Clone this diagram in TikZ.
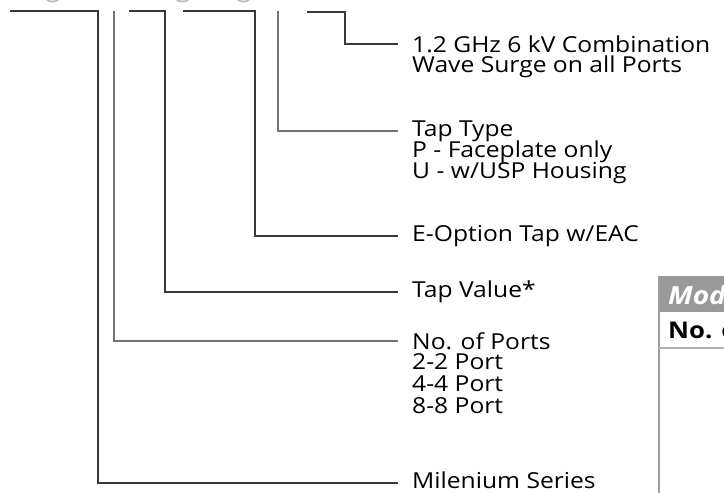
\documentclass[tikz,border=0pt]{standalone}
\usepackage{fontspec}
\setmainfont{Open Sans}[FakeStretch=1.12]
\begin{document}
\begin{tikzpicture}[x=1pt,y=-1pt,
  lead/.style={line width=1.3pt,draw=black!78},
  leadg/.style={line width=1.3pt,draw=black!55},
  lbl/.style={anchor=west,inner sep=0pt,font=\fontsize{22}{24}\selectfont},
  tline/.style={line width=2pt,draw=black!38},
  frag/.style={line width=1.8pt,draw=black!25}]
\useasboundingbox (0,0) rectangle (724,493);
% labels
\node[lbl] (ghz) at (412,44) {1.2 GHz 6 kV Combination};
\node[lbl] (ghzb) at (412,67) {Wave Surge on all Ports};
\node[lbl] (tt) at (412,131) {Tap Type};
\node[lbl] (ttp) at (412,152) {P - Faceplate only};
\node[lbl] (ttu) at (412,173) {U - w/USP Housing};
\node[lbl] (eo) at (412,236) {E-Option Tap w/EAC};
\node[lbl] (tv) at (412,292) {Tap Value*};
\node[lbl] (np) at (412,341) {No. of Ports};
\node[lbl] (np2) at (412,362) {2-2 Port};
\node[lbl] (np4) at (412,384) {4-4 Port};
\node[lbl] (np8) at (412,406) {8-8 Port};
\node[lbl] (ms) at (412,480) {Milenium Series};
% end points
\coordinate (e1) at (398,44);
\coordinate (e2) at (398,131);
\coordinate (e3) at (398,236);
\coordinate (e4) at (398,292);
\coordinate (e5) at (398,341);
\coordinate (e6) at (398,483);
% leaders
\draw[lead] (10,11) -| (98,483) -- (e6);
\draw[leadg] (114,11) |- (e5);
\draw[lead] (129,11) -| (165,292) -- (e4);
\draw[lead] (183,11) -| (255,236) -- (e3);
\draw[leadg] (278,11) |- (e2);
\draw[lead] (307,12) -| (345,44) -- (e1);
% table and cut-off fragments at the top edge
\begin{scope}
\clip (0,0) rectangle (724,493);
\draw[frag] (46,-1) .. controls (49,2.5) and (56,2.5) .. (59,-1);
\draw[frag] (176,-1) .. controls (179,2.5) and (186,2.5) .. (189,-1);
\draw[frag] (237,-1) .. controls (240,2.5) and (247,2.5) .. (250,-1);
\fill[black!40] (659,276) rectangle (730,312);
\node[anchor=west,inner sep=0pt,text=white,font=\fontsize{25}{27}\selectfont\itshape\bfseries] (mod) at (668,295) {Model};
\node[anchor=west,inner sep=0pt,font=\fontsize{23}{25}\selectfont\bfseries] (no) at (668,330) {No. of Ports};
\draw[tline] (659,276) -- (659,493);
\draw[line width=1.5pt,draw=black!30] (659,348) -- (730,348);
\end{scope}
\end{tikzpicture}
\end{document}
